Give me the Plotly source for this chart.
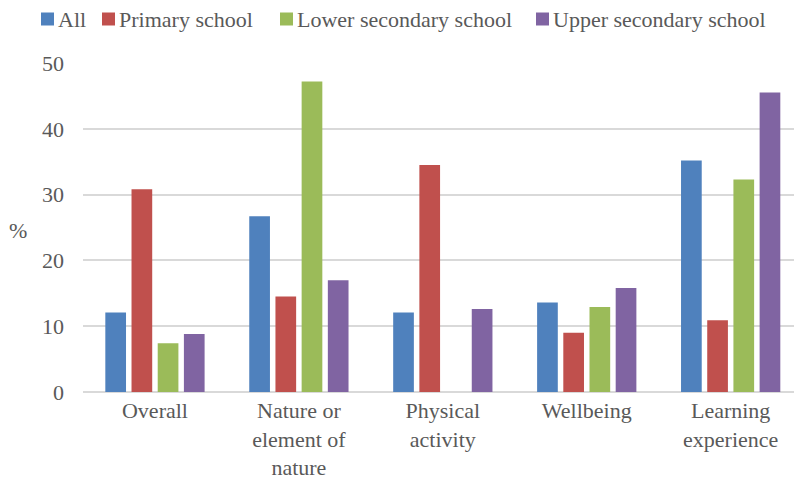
import plotly.graph_objects as go

# Categories (multi-line labels) and series values, in %
categories = ["Overall", "Nature or<br>element of<br>nature", "Physical<br>activity",
              "Wellbeing", "Learning<br>experience"]
series_names = ["All", "Primary school", "Lower secondary school", "Upper secondary school"]
all_vals = [12.1, 26.7, 12.1, 13.6, 35.2]
primary_vals = [30.8, 14.5, 34.5, 9.0, 10.9]
lower_sec_vals = [7.4, 47.2, None, 12.9, 32.3]
upper_sec_vals = [8.8, 17.0, 12.6, 15.8, 45.5]
y_ticks = [0, 10, 20, 30, 40, 50]

colors = ["#4F81BD", "#C0504D", "#9BBB59", "#8064A2"]
FONT = "Liberation Serif"
TEXT = "#595959"

W, H = 794, 479
ML, MR, MT, MB = 83, 0, 63, 87
plot_w = W - ML - MR
plot_h = H - MT - MB

fig = go.Figure()
for name, vals, col in zip(series_names,
                           [all_vals, primary_vals, lower_sec_vals, upper_sec_vals],
                           colors):
    fig.add_trace(go.Bar(x=list(range(len(categories))), y=vals, name=name,
                         marker=dict(color=col, line=dict(width=0)),
                         showlegend=False))

# Legend drawn as swatches + labels across the top
legend_x = [41, 102, 280, 536]
legend_y = 19
for name, col, px in zip(series_names, colors, legend_x):
    fig.add_shape(type="rect", xref="paper", yref="paper",
                  x0=(px - ML) / plot_w, x1=(px + 13 - ML) / plot_w,
                  y0=(H - MB - (legend_y + 6.5)) / plot_h,
                  y1=(H - MB - (legend_y - 6.5)) / plot_h,
                  fillcolor=col, line=dict(width=0))
    fig.add_annotation(text=name, xref="paper", yref="paper",
                       x=(px + 15 - ML) / plot_w, y=(H - MB - legend_y) / plot_h,
                       xanchor="left", yanchor="middle", showarrow=False,
                       font=dict(family=FONT, size=22, color=TEXT))

# Horizontal "%" axis title
fig.add_annotation(text="%", xref="paper", yref="paper",
                   x=(18 - ML) / plot_w, y=(H - MB - 230) / plot_h,
                   xanchor="center", yanchor="middle", showarrow=False,
                   font=dict(family=FONT, size=22, color=TEXT))

fig.update_layout(
    width=W, height=H,
    margin=dict(l=ML, r=MR, t=MT, b=MB, pad=0, autoexpand=False),
    paper_bgcolor="white", plot_bgcolor="white",
    barmode="group", bargap=0.272, bargroupgap=0.21,
    font=dict(family=FONT, size=22, color=TEXT),
)
fig.update_xaxes(
    tickmode="array", tickvals=list(range(len(categories))), ticktext=categories,
    range=[-0.5, 4.44], showgrid=False, zeroline=False, automargin=False,
    showline=False, ticks="", ticklabelstandoff=3,
    tickfont=dict(family=FONT, size=22, color=TEXT),
)
fig.update_yaxes(
    range=[0, 50], tickvals=y_ticks, showgrid=True, gridcolor="#D9D9D9", gridwidth=1.5,
    zeroline=True, zerolinecolor="#D9D9D9", zerolinewidth=2, automargin=False,
    showline=False, ticks="", ticklabelstandoff=18,
    tickfont=dict(family=FONT, size=22, color=TEXT),
)

fig.write_html("out.html")
